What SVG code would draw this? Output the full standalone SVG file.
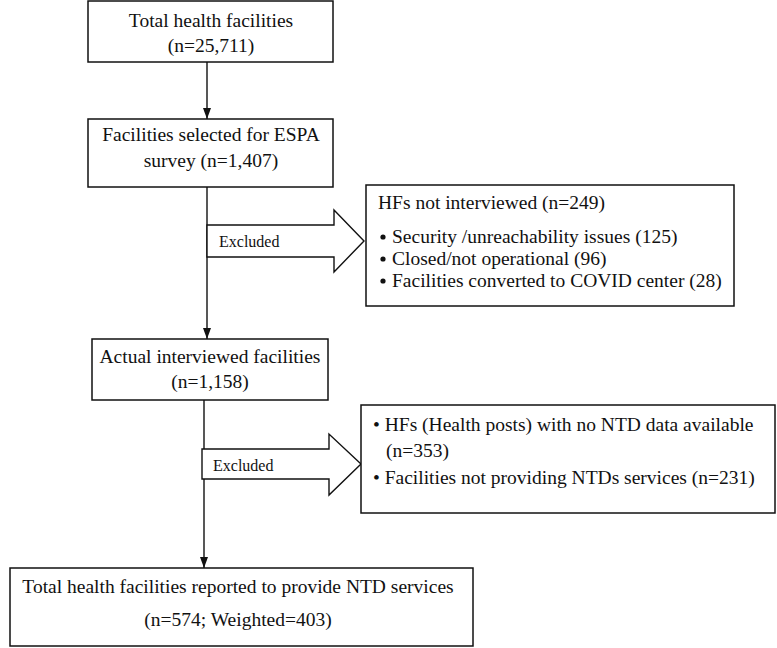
<svg xmlns="http://www.w3.org/2000/svg" width="777" height="648" viewBox="0 0 777 648">
<style>
.box{fill:#fff;stroke:#111;stroke-width:1.5}
.t{font-family:"Liberation Serif","Times New Roman",serif;font-size:19.5px;fill:#111}
.c{text-anchor:middle}
.ex{font-family:"Liberation Serif","Times New Roman",serif;font-size:16px;fill:#111}
.ln{stroke:#111;stroke-width:1.4;fill:none}
.blk{fill:#fff;stroke:#111;stroke-width:1.4}
</style>
<defs>
<marker id="ah" markerWidth="11" markerHeight="8" refX="11" refY="4" orient="auto" markerUnits="userSpaceOnUse" viewBox="0 0 11 8">
<path d="M0,0 L11,4 L0,8 Z" fill="#111"/>
</marker>
</defs>
<g id="connectors">
<line class="ln" x1="207" y1="62" x2="207" y2="119" marker-end="url(#ah)"/>
<line class="ln" x1="207" y1="187" x2="207" y2="339" marker-end="url(#ah)"/>
<line class="ln" x1="204" y1="400" x2="204" y2="568" marker-end="url(#ah)"/>
<g id="excluded1">
<polygon class="blk" points="207,225 334,225 334,210 364,241 334,272 334,257 207,257"/>
<text class="ex" x="219" y="247">Excluded</text>
</g>
<g id="excluded2">
<polygon class="blk" points="202,449 329,449 329,434 361,464 329,495 329,479 202,479"/>
<text class="ex" x="213" y="471">Excluded</text>
</g>
</g>
<g id="total">
<rect class="box" x="88" y="1" width="245" height="61"/>
<text class="t c" x="211" y="27">Total health facilities</text>
<text class="t c" x="211" y="52">(n=25,711)</text>
</g>
<g id="selected">
<rect class="box" x="88" y="119" width="245" height="68"/>
<text class="t c" x="211" y="141">Facilities selected for ESPA</text>
<text class="t c" x="211" y="167">survey (n=1,407)</text>
</g>
<g id="not-interviewed">
<rect class="box" x="366" y="185" width="368" height="121"/>
<text class="t" x="378" y="209">HFs not interviewed (n=249)</text>
<circle cx="383" cy="237" r="2.6" fill="#111"/>
<text class="t" x="392" y="243">Security /unreachability issues (125)</text>
<circle cx="383" cy="259" r="2.6" fill="#111"/>
<text class="t" x="392" y="265">Closed/not operational (96)</text>
<circle cx="383" cy="281" r="2.6" fill="#111"/>
<text class="t" x="392" y="287">Facilities converted to COVID center (28)</text>
</g>
<g id="interviewed">
<rect class="box" x="92" y="339" width="236" height="61"/>
<text class="t c" x="210" y="363">Actual interviewed facilities</text>
<text class="t c" x="210" y="388">(n=1,158)</text>
</g>
<g id="no-ntd">
<rect class="box" x="361" y="405" width="414" height="108"/>
<text class="t" x="373" y="431">• HFs (Health posts) with no NTD data available</text>
<text class="t" x="386" y="457">(n=353)</text>
<text class="t" x="373" y="484">• Facilities not providing NTDs services (n=231)</text>
</g>
<g id="final">
<rect class="box" x="10" y="568" width="463" height="78"/>
<text class="t c" x="238" y="593">Total health facilities reported to provide NTD services</text>
<text class="t c" x="238" y="626">(n=574; Weighted=403)</text>
</g>
</svg>
